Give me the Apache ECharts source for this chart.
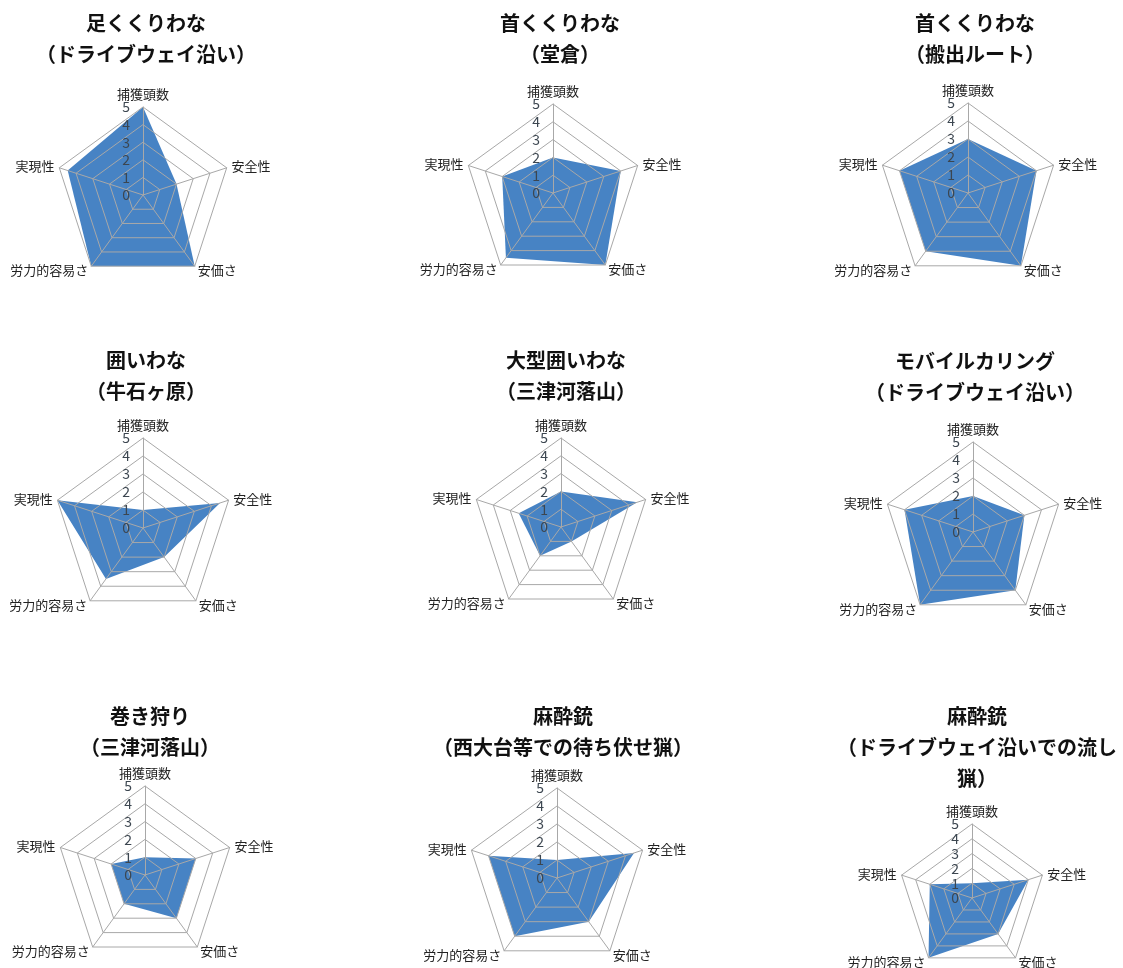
<!DOCTYPE html>
<html>
<head>
<meta charset="utf-8">
<script src="https://cdn.jsdelivr.net/npm/echarts@6/dist/echarts.min.js"></script>
<style>
html,body{margin:0;padding:0;background:#fff;}
#main{width:1123px;height:968px;}
</style>
</head>
<body>
<div id="main"></div>
<script>
// 評価項目（上から時計回り）
var indicators = ['捕獲頭数', '安全性', '安価さ', '労力的容易さ', '実現性'];

var titles = [
    '足くくりわな\n（ドライブウェイ沿い）',
    '首くくりわな\n（堂倉）',
    '首くくりわな\n（搬出ルート）',
    '囲いわな\n（牛石ヶ原）',
    '大型囲いわな\n（三津河落山）',
    'モバイルカリング\n（ドライブウェイ沿い）',
    '巻き狩り\n（三津河落山）',
    '麻酔銃\n（西大台等での待ち伏せ猟）',
    '麻酔銃\n（ドライブウェイ沿いでの流し\n猟）'
];

// 各手法の評価 (捕獲頭数, 安全性, 安価さ, 労力的容易さ, 実現性)
var ashiKukuriDW = [5, 2, 5, 5, 4.5];
var kubiKukuriDoukura = [2, 4, 5, 4.5, 3];
var kubiKukuriHanshutsu = [3, 4, 5, 4, 4];
var kakoiUshiishi = [1, 4.5, 2, 3.5, 5];
var ogataKakoi = [2, 4.5, 1, 2, 2.5];
var mobileCulling = [2, 3, 4, 5, 4];
var makigari = [1, 3, 3, 2, 2];
var masuiMachibuse = [1, 4.5, 3, 4, 4];
var masuiNagashi = [1, 4, 3, 5, 3];

var allScores = [ashiKukuriDW, kubiKukuriDoukura, kubiKukuriHanshutsu,
    kakoiUshiishi, ogataKakoi, mobileCulling,
    makigari, masuiMachibuse, masuiNagashi];

// echartsのレーダーは反時計回りなので並べ替える
var order = [0, 4, 3, 2, 1];
function reorder(arr) {
    return order.map(function (k) { return arr[k]; });
}

// レイアウト
var centers = [[143, 195], [553, 193], [968, 193],
               [143, 528], [561, 527], [973, 532],
               [145, 875], [557, 878], [972, 898]];
var radii = [88, 89, 90, 90, 89, 90, 89, 90, 74];
var titlePos = [[141, 3], [555, 3], [970, 3],
                [141, 340], [561, 340], [970, 341],
                [145, 696], [558, 696], [972, 696]];

var FONT = '"Noto Sans CJK JP", "Noto Sans", sans-serif';
var GRID = '#a8a8a8';

var title = [], radar = [], series = [];
for (var i = 0; i < 9; i++) {
    title.push({
        text: titles[i],
        left: titlePos[i][0],
        top: titlePos[i][1],
        textAlign: 'center',
        textStyle: {fontSize: 20, fontWeight: 'bold', color: '#111', fontFamily: FONT, lineHeight: 31}
    });
    radar.push({
        z: 5,
        center: centers[i],
        radius: radii[i],
        startAngle: 90,
        shape: 'polygon',
        splitNumber: 5,
        nameGap: 5,
        indicator: reorder(indicators).map(function (n, k) {
            var o = {name: n, min: 0, max: 5};
            if (k === 0) o.axisLabel = {show: true};
            return o;
        }),
        axisName: {color: '#222', fontSize: 13, fontFamily: FONT},
        axisLine: {lineStyle: {color: GRID, width: 1}},
        splitLine: {lineStyle: {color: GRID, width: 1}},
        splitArea: {show: false},
        axisTick: {show: false},
        axisLabel: {show: false, showMinLabel: true, showMaxLabel: true,
            color: '#3c4650', fontSize: 14, fontFamily: FONT, margin: 13}
    });
    series.push({
        type: 'radar',
        radarIndex: i,
        z: 1,
        symbol: 'none',
        silent: true,
        lineStyle: {width: 0},
        areaStyle: {color: '#4783c4', opacity: 1},
        data: [{value: reorder(allScores[i]), name: titles[i]}]
    });
}

var chart = echarts.init(document.getElementById('main'));
chart.setOption({
    backgroundColor: '#ffffff',
    animation: false,
    title: title,
    radar: radar,
    series: series
});
</script>
</body>
</html>
